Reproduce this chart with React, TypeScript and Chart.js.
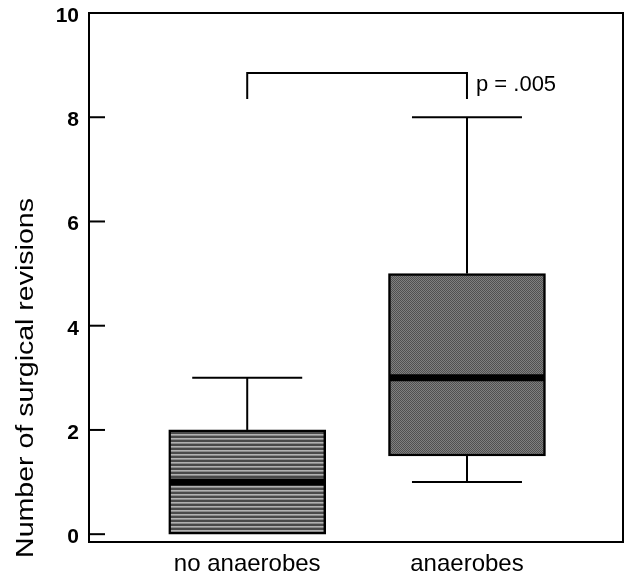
import React, { useEffect, useRef } from 'react';
import { Chart, registerables } from 'chart.js';

Chart.register(...registerables);

// ---- data ----
const categories = ['no anaerobes', 'anaerobes'];
const positions = [1, 2];
const whiskerLow = [0, 1];
const quartile1 = [0, 1.5];
const medians = [1, 3];
const quartile3 = [2, 5];
const whiskerHigh = [3, 8];
const yTickValues = [0, 2, 4, 6, 8, 10];
const bracketFrom = 1;
const bracketTo = 2;
const bracketTop = 8.85;
const bracketFoot = 8.35;
const pValueLabel = 'p = .005';
const pValueY = 8.5;
const yTitle = 'Number of surgical revisions';

const FONT = '"Liberation Sans", Arial, Helvetica, sans-serif';

function makeStripePattern(ctx: CanvasRenderingContext2D) {
  const c = document.createElement('canvas');
  c.width = 4;
  c.height = 4;
  const g = c.getContext('2d')!;
  g.fillStyle = '#4a4a4a';
  g.fillRect(0, 0, 4, 4);
  g.fillStyle = '#b2b2b2';
  g.fillRect(0, 2, 4, 1);
  g.fillStyle = '#8a8a8a';
  g.fillRect(0, 3, 4, 1);
  return ctx.createPattern(c, 'repeat')!;
}

function makeCheckerPattern(ctx: CanvasRenderingContext2D) {
  const c = document.createElement('canvas');
  c.width = 2;
  c.height = 2;
  const g = c.getContext('2d')!;
  g.fillStyle = '#505050';
  g.fillRect(0, 0, 2, 2);
  g.fillStyle = '#808080';
  g.fillRect(1, 0, 1, 1);
  g.fillRect(0, 1, 1, 1);
  return ctx.createPattern(c, 'repeat')!;
}

const BOX_PX = 157;
const CAP_HALF = 55;

const boxExtras = {
  id: 'boxExtras',
  afterDatasetsDraw(chart: any) {
    const { ctx, scales } = chart;
    const x = scales.x;
    const y = scales.y;
    const line = (x1: number, y1: number, x2: number, y2: number) => {
      ctx.beginPath();
      ctx.moveTo(x1, y1);
      ctx.lineTo(x2, y2);
      ctx.stroke();
    };
    ctx.save();
    ctx.strokeStyle = '#000';
    ctx.lineCap = 'butt';
    positions.forEach((p, i) => {
      const cx = x.getPixelForValue(p);
      const yHi = y.getPixelForValue(whiskerHigh[i]);
      const yQ3 = y.getPixelForValue(quartile3[i]);
      const yQ1 = y.getPixelForValue(quartile1[i]);
      const yLo = y.getPixelForValue(whiskerLow[i]);
      const yMed = y.getPixelForValue(medians[i]);
      ctx.lineWidth = 2;
      line(cx, yQ3, cx, yHi);
      line(cx - CAP_HALF, yHi, cx + CAP_HALF, yHi);
      if (whiskerLow[i] < quartile1[i]) {
        line(cx, yQ1, cx, yLo);
        line(cx - CAP_HALF, yLo, cx + CAP_HALF, yLo);
      }
      ctx.lineWidth = 7;
      line(cx - BOX_PX / 2 + 1, yMed, cx + BOX_PX / 2 - 1, yMed);
    });
    ctx.restore();
  },
  afterDraw(chart: any) {
    const { ctx, chartArea, scales } = chart;
    const x = scales.x;
    const y = scales.y;
    const line = (x1: number, y1: number, x2: number, y2: number) => {
      ctx.beginPath();
      ctx.moveTo(x1, y1);
      ctx.lineTo(x2, y2);
      ctx.stroke();
    };
    ctx.save();
    ctx.strokeStyle = '#000';
    ctx.lineWidth = 2;
    // frame
    ctx.strokeRect(chartArea.left, chartArea.top, chartArea.right - chartArea.left, chartArea.bottom - chartArea.top);
    // inward y ticks
    yTickValues.forEach((v) => {
      const py = y.getPixelForValue(v);
      line(chartArea.left, py, chartArea.left + 16, py);
    });
    // bracket
    const bx1 = x.getPixelForValue(bracketFrom);
    const bx2 = x.getPixelForValue(bracketTo);
    const byT = y.getPixelForValue(bracketTop);
    const byF = y.getPixelForValue(bracketFoot);
    ctx.beginPath();
    ctx.moveTo(bx1, byF);
    ctx.lineTo(bx1, byT);
    ctx.lineTo(bx2, byT);
    ctx.lineTo(bx2, byF);
    ctx.stroke();
    // p value
    ctx.fillStyle = '#000';
    ctx.font = `22px ${FONT}`;
    ctx.textAlign = 'left';
    ctx.textBaseline = 'alphabetic';
    ctx.fillText(pValueLabel, bx2 + 9, y.getPixelForValue(pValueY));
    // y title
    ctx.save();
    ctx.translate(33, 378);
    ctx.rotate(-Math.PI / 2);
    ctx.scale(1.24, 1);
    ctx.font = `23px ${FONT}`;
    ctx.textAlign = 'center';
    ctx.textBaseline = 'alphabetic';
    ctx.fillText(yTitle, 0, 0);
    ctx.restore();
    ctx.restore();
  },
};

export default function App() {
  const ref = useRef<HTMLCanvasElement | null>(null);
  useEffect(() => {
    const canvas = ref.current!;
    const ctx = canvas.getContext('2d')!;
    const fills = [makeStripePattern(ctx), makeCheckerPattern(ctx)];
    const chart = new Chart(canvas, {
      type: 'bar',
      data: {
        datasets: [
          {
            data: positions.map((p, i) => ({ x: p, y: [quartile1[i], quartile3[i]] })) as any,
            backgroundColor: fills as any,
            borderColor: '#000',
            borderWidth: 2.5,
            borderSkipped: false,
            barThickness: BOX_PX,
          },
        ],
      },
      options: {
        responsive: false,
        animation: false,
        events: [],
        layout: { padding: { top: 13, right: 2, left: 0, bottom: 0 } },
        plugins: { legend: { display: false }, tooltip: { enabled: false } },
        scales: {
          x: {
            type: 'linear',
            min: 0.28,
            max: 2.71,
            offset: false,
            grid: { display: false, drawTicks: false, offset: false },
            border: { display: false },
            afterFit: (s: any) => {
              s.height = 34;
              s.paddingLeft = 0;
              s.paddingRight = 0;
            },
            afterBuildTicks: (s: any) => {
              s.ticks = positions.map((v) => ({ value: v }));
            },
            ticks: {
              autoSkip: false,
              maxRotation: 0,
              padding: 8,
              color: '#000',
              font: { family: FONT, size: 24 },
              callback: (v: any) => categories[positions.indexOf(Number(v))] ?? '',
            },
          },
          y: {
            min: -0.15,
            max: 10,
            grid: { display: false, drawTicks: false },
            border: { display: false },
            afterFit: (s: any) => {
              s.width = 89;
              s.paddingTop = 0;
              s.paddingBottom = 0;
            },
            afterBuildTicks: (s: any) => {
              s.ticks = yTickValues.map((v) => ({ value: v }));
            },
            ticks: {
              padding: 10,
              labelOffset: 3,
              color: '#000',
              font: { family: FONT, size: 21, weight: 'bold' },
            },
          },
        },
      },
      plugins: [boxExtras],
    });
    return () => chart.destroy();
  }, []);
  return (
    <div style={{ position: 'absolute', left: 0, top: 0, width: 625, height: 576, background: '#fff' }}>
      <canvas ref={ref} width={625} height={576} />
    </div>
  );
}
